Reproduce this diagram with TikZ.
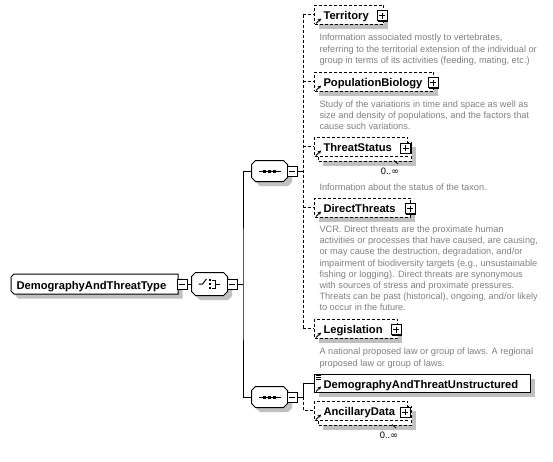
\documentclass[tikz,border=0pt]{standalone}
\usepackage{fontspec}
\setmainfont{Liberation Sans}
\newfontfamily\symfont{DejaVu Sans}
\usetikzlibrary{shadows,calc,arrows.meta}
\newcommand\pxu{*0.75pt}
\definecolor{shadowgray}{RGB}{192,192,192}
\definecolor{descgray}{RGB}{128,128,128}
\newcommand\octo[2]{%
 \fill[shadowgray] ($(#1.north west)+(4.5+#2,4.5)$) -- ($(#1.north east)+(4.5-#2,4.5)$) -- ($(#1.north east)+(4.5,4.5+#2)$) -- ($(#1.south east)+(4.5,4.5-#2)$) -- ($(#1.south east)+(4.5-#2,4.5)$) -- ($(#1.south west)+(4.5+#2,4.5)$) -- ($(#1.south west)+(4.5,4.5-#2)$) -- ($(#1.north west)+(4.5,4.5+#2)$) -- cycle;
 \draw[fill=white] ($(#1.north west)+(#2,0)$) -- ($(#1.north east)+(-#2,0)$) -- ($(#1.north east)+(0,#2)$) -- ($(#1.south east)+(0,-#2)$) -- ($(#1.south east)+(-#2,0)$) -- ($(#1.south west)+(#2,0)$) -- ($(#1.south west)+(0,-#2)$) -- ($(#1.north west)+(0,#2)$) -- cycle;}
\newcommand\seqsym[1]{%
 \draw ($(#1.center)+(-11,0)$) -- ($(#1.center)+(11,0)$);
 \fill ($(#1.center)+(-6.5,-1.5)$) rectangle ++(3,3);
 \fill ($(#1.center)+(-1.5,-1.5)$) rectangle ++(3,3);
 \fill ($(#1.center)+(3.5,-1.5)$) rectangle ++(3,3);}
\newcommand\refarr[1]{\draw[refarrow] ($(#1.south west)+(2,-1)$) -- ($(#1.south west)+(7,-6)$);}
\begin{document}
\begin{tikzpicture}[x=0.75pt,y=-0.75pt,line width=0.75pt,
  lbl/.style={font=\fontsize{8.4}{10}\selectfont\bfseries, inner sep=0pt, anchor=base west},
  desc/.style={font=\fontsize{6.9}{8.4}\selectfont, text=descgray, inner sep=0pt, anchor=north west, align=left},
  multlbl/.style={font=\fontsize{7}{8}\selectfont, inner sep=0pt},
  shad/.style={drop shadow={shadow xshift=4.5\pxu, shadow yshift=-4.5\pxu, opacity=1, fill=shadowgray}},
  ebox/.style={draw, fill=white, minimum height=19\pxu, inner sep=0pt, anchor=west},
  optl/.style={dash pattern=on 2.25pt off 1.5pt},
  btn/.style={draw, fill=white, minimum size=10\pxu, inner sep=0pt, drop shadow={shadow xshift=1\pxu, shadow yshift=-1\pxu, opacity=1, fill=black}},
  plusbtn/.style={btn, path picture={\draw[line width=0.75pt] ([xshift=2\pxu]path picture bounding box.west) -- ([xshift=-2\pxu]path picture bounding box.east) ([yshift=-2\pxu]path picture bounding box.north) -- ([yshift=2\pxu]path picture bounding box.south);}},
  minusbtn/.style={btn, path picture={\draw[line width=0.75pt] ([xshift=2\pxu]path picture bounding box.west) -- ([xshift=-2\pxu]path picture bounding box.east);}},
  comp/.style={minimum width=35\pxu, minimum height=20\pxu, inner sep=0pt},
  refarrow/.style={-{Stealth[length=2.5pt,width=2.5pt]}, line width=0.6pt}]
\useasboundingbox (0,0) rectangle (553,461);

% ---------- main element ----------
\node[inner sep=0pt, minimum width=166\pxu, minimum height=19\pxu, anchor=west] (main) at (11,284) {};
\fill[shadowgray] ($(main.north west)+(7.5,4.5)$) -- ($(main.north east)+(4.5,4.5)$) -- ($(main.south east)+(4.5,4.5)$) -- ($(main.south west)+(7.5,4.5)$) -- ($(main.south west)+(4.5,1.5)$) -- ($(main.north west)+(4.5,7.5)$) -- cycle;
\draw[fill=white] ($(main.north west)+(3,0)$) -- (main.north east) -- (main.south east) -- ($(main.south west)+(3,0)$) -- ($(main.south west)+(0,-3)$) -- ($(main.north west)+(0,3)$) -- cycle;
\node[lbl] (mainL) at (16,289.3) {DemographyAndThreatType};
\node[minusbtn] (mainM) at (182,284) {};

% ---------- choice ----------
\node[comp, minimum height=22\pxu] (ch) at (209.5,284) {};
\octo{ch}{4}
\draw ($(ch.center)+(-11,0)$) -- ($(ch.center)+(-7,0)$) -- ($(ch.center)+(-3,-5)$);
\fill ($(ch.center)+(-0.75,-5.25)$) rectangle ++(2.5,2.5);
\fill ($(ch.center)+(-0.75,-1.25)$) rectangle ++(2.5,2.5);
\fill ($(ch.center)+(-0.75,2.75)$) rectangle ++(2.5,2.5);
\draw ($(ch.center)+(2.5,-4)$) -- ++(3,0) -- ++(0,8) -- ++(-3,0);
\draw ($(ch.center)+(5.5,0)$) -- ++(5,0);
\node[minusbtn] (chM) at (232,284) {};
\draw (mainM.east) -- (ch.west);

% ---------- sequences ----------
\node[comp] (seq1) at (269.5,171) {};
\octo{seq1}{4}
\seqsym{seq1}
\node[minusbtn] (s1M) at (292,171) {};

\node[comp] (seq2) at (269.5,397) {};
\octo{seq2}{4}
\seqsym{seq2}
\node[minusbtn] (s2M) at (292,397) {};

\coordinate (tr) at (243,284);
\draw (chM.east) -- (tr);
\draw (seq1.west) -| (tr) |- (seq2.west);

% ---------- upper children ----------
\node[ebox, optl, shad, minimum width=69\pxu] (ter) at (314,14.5) {};
\node[lbl] (terL) at (323,19.5) {Territory};
\refarr{ter}
\node[plusbtn] (terP) at (382,15.5) {};
\node[desc] (terD) at (319,33.8) {Information associated mostly to vertebrates,\\referring to the territorial extension of the individual or\\group in terms of its activities (feeding, mating, etc.)};

\node[ebox, optl, shad, minimum width=119\pxu] (pop) at (314,81.5) {};
\node[lbl] (popL) at (323,86.5) {PopulationBiology};
\refarr{pop}
\node[plusbtn] (popP) at (433,82.5) {};
\node[desc] (popD) at (319,100.3) {Study of the variations in time and space as well as\\size and density of populations, and the factors that\\cause such variations.};

\node[ebox, optl, shad, minimum width=93\pxu] (tsB) at (318,151.5) {};
\node[ebox, optl, minimum width=93\pxu] (ts) at (314,146.5) {};
\node[lbl] (tsL) at (323,151.5) {ThreatStatus};
\refarr{ts}
\node[plusbtn] (tsP) at (405.5,148) {};
\draw[line width=0.6pt] (394,160.5) -- (398,164);
\node[multlbl] (tsN) at (390,171) {0..{\symfont ∞}};
\node[desc] (tsD) at (319,183) {Information about the status of the taxon.};

\node[ebox, optl, shad, minimum width=96\pxu] (dt) at (314,207.5) {};
\node[lbl] (dtL) at (323,212.5) {DirectThreats};
\refarr{dt}
\node[plusbtn] (dtP) at (410,208.5) {};
\node[desc] (dtD) at (319,225.3) {VCR. Direct threats are the proximate human\\activities or processes that have caused, are causing,\\or may cause the destruction, degradation, and/or\\impairment of biodiversity targets (e.g., unsustainable\\fishing or logging). Direct threats are synonymous\\with sources of stress and proximate pressures.\\Threats can be past (historical), ongoing, and/or likely\\to occur in the future.};

\node[ebox, optl, shad, minimum width=83\pxu] (leg) at (314,328.5) {};
\node[lbl] (legL) at (323,333.5) {Legislation};
\refarr{leg}
\node[plusbtn] (legP) at (396,329.5) {};
\node[desc] (legD) at (319,347.8) {A national proposed law or group of laws. A regional\\proposed law or group of laws.};

\coordinate (b1) at (303,171);
\draw (s1M.east) -- (b1);
\draw[optl] (ter.west -| b1) -- (leg.west -| b1);
\foreach \n in {ter,pop,ts,dt,leg} {\draw[optl] (\n.west -| b1) -- (\n.west);}

% ---------- lower children ----------
\node[ebox, shad, minimum width=216\pxu, minimum height=18\pxu] (datu) at (314,383) {};
\node[lbl] (datuL) at (323,388) {DemographyAndThreatUnstructured};
\refarr{datu}
\draw[line width=0.6pt] ($(datu.north west)+(2,2)$) -- ++(5,0) ($(datu.north west)+(2,4)$) -- ++(5,0) ($(datu.north west)+(2,6)$) -- ++(5,0);

\node[ebox, optl, shad, minimum width=93\pxu] (anB) at (318,415.5) {};
\node[ebox, optl, minimum width=93\pxu] (an) at (314,410.5) {};
\node[lbl] (anL) at (323,415.5) {AncillaryData};
\refarr{an}
\node[plusbtn] (anP) at (405,412) {};
\draw[line width=0.6pt] (392,424.5) -- (396,428);
\node[multlbl] (anN) at (389,435) {0..{\symfont ∞}};

\coordinate (b2) at (303,397);
\draw (s2M.east) -- (b2) -- (b2 |- datu.west) -- (datu.west);
\draw[optl] (b2) -- (b2 |- an.west) -- (an.west);
\end{tikzpicture}
\end{document}
